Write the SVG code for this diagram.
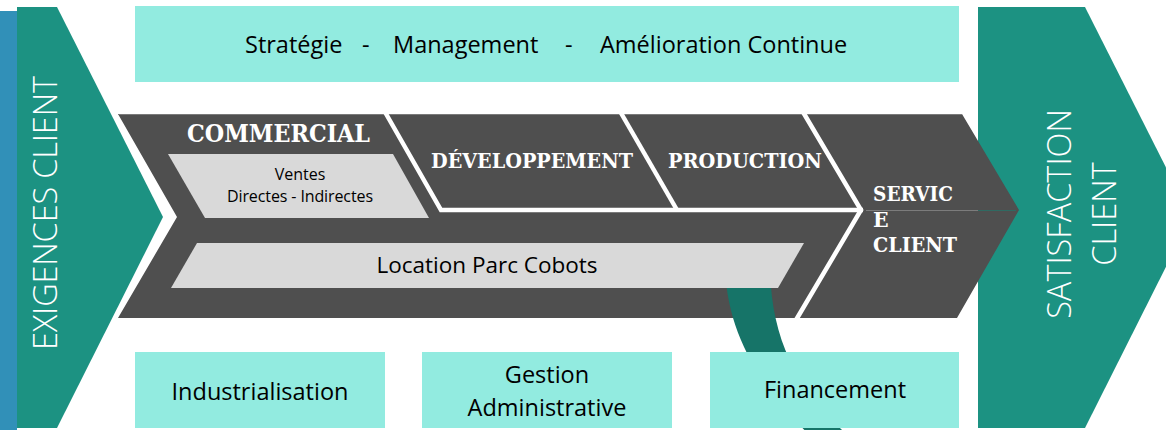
<svg xmlns="http://www.w3.org/2000/svg" width="1166" height="430" viewBox="0 0 1166 430">
<style>
.pale{fill:#92ebe0}
.teal{fill:#1c9282}
.dark{fill:#4f4f4f}
.grey{fill:#d9d9d9}
.sep{stroke:#ffffff;stroke-width:4.5;fill:none;stroke-linejoin:miter}
.sans{font-family:"Open Sans","Noto Sans","Liberation Sans",sans-serif;fill:#000000}
.big{font-size:23.5px}
.light{font-family:"Open Sans","Noto Sans","Liberation Sans",sans-serif;font-weight:300;fill:#ffffff;font-size:32.5px}
.slab{font-family:"DejaVu Serif","Liberation Serif",serif;font-weight:bold;fill:#ffffff}
</style>
<rect width="1166" height="430" fill="#ffffff"/>

<g id="exigences-client">
<rect x="0" y="11" width="17" height="419" fill="#3190b8"/>
<polygon class="teal" points="17,7 57,7 163,217 57,428 17,428"/>
<text class="light" transform="translate(57,213) rotate(-90)" text-anchor="middle" textLength="274">EXIGENCES CLIENT</text>
</g>

<g id="satisfaction-client">
<polygon class="teal" points="978,7 1085,7 1191,217 1085,428 978,428"/>
<text class="light" transform="translate(1071,214) rotate(-90)" text-anchor="middle">SATISFACTION</text>
<text class="light" transform="translate(1116,214) rotate(-90)" text-anchor="middle">CLIENT</text>
</g>

<g id="strategie">
<rect class="pale" x="135" y="6" width="824" height="76"/>
<text class="sans big" y="53"><tspan x="245">Stratégie</tspan><tspan x="362">-</tspan><tspan x="393">Management</tspan><tspan x="565">-</tspan><tspan x="600">Amélioration Continue</tspan></text>
</g>

<g id="chaine-valeur">
<polygon class="dark" points="118,114 962,114 1019,210 957,318 118,318 177,217"/>
<line x1="118" y1="114.5" x2="962" y2="114.5" stroke="#7a7a7a" stroke-width="1"/>
<polyline class="sep" points="385,112 441,210 863,210"/>
<line class="sep" x1="621" y1="113" x2="677" y2="210"/>
<polyline class="sep" points="803,112 861,210 796,320"/>
<line x1="866" y1="210.5" x2="978" y2="210.5" stroke="#7c7c7c" stroke-width="1"/>
<line x1="978" y1="210.5" x2="1016" y2="210.5" stroke="#2f6a62" stroke-width="1"/>
</g>

<g id="swoosh">
<path d="M725,262 C725,330 760,390 815,440 L853,440 C790,385 770,330 770,262 Z" fill="#167468"/>
</g>

<g id="commercial">
<text class="slab" x="187" y="142" font-size="24" textLength="183" lengthAdjust="spacingAndGlyphs">COMMERCIAL</text>
</g>

<g id="ventes">
<polygon class="grey" points="168,154 393,154 429,218 205,218"/>
<text class="sans" x="300" y="180" font-size="16" text-anchor="middle">Ventes</text>
<text class="sans" x="300" y="202" font-size="16" text-anchor="middle" textLength="146">Directes - Indirectes</text>
</g>

<g id="developpement">
<text class="slab" x="431" y="168" font-size="21" textLength="202" lengthAdjust="spacingAndGlyphs">DÉVELOPPEMENT</text>
</g>

<g id="production">
<text class="slab" x="668" y="168" font-size="21" textLength="154" lengthAdjust="spacingAndGlyphs">PRODUCTION</text>
</g>

<g id="service-client">
<text class="slab" x="873" y="201" font-size="20.5" textLength="80" lengthAdjust="spacingAndGlyphs">SERVIC</text>
<text class="slab" x="873" y="227" font-size="20.5">E</text>
<text class="slab" x="873" y="252" font-size="20.5" textLength="84" lengthAdjust="spacingAndGlyphs">CLIENT</text>
</g>

<g id="location">
<polygon class="grey" points="197,243 804,243 778,288 171,288"/>
<text class="sans" x="487" y="273" font-size="22.5" text-anchor="middle">Location Parc Cobots</text>
</g>

<g id="industrialisation">
<rect class="pale" x="135" y="352" width="250" height="76"/>
<text class="sans big" x="260" y="400" text-anchor="middle">Industrialisation</text>
</g>

<g id="gestion">
<rect class="pale" x="422" y="352" width="250" height="76"/>
<text class="sans big" x="547" y="383" text-anchor="middle">Gestion</text>
<text class="sans big" x="547" y="416" text-anchor="middle">Administrative</text>
</g>

<g id="financement">
<rect class="pale" x="710" y="352" width="249" height="76"/>
<text class="sans big" x="835" y="398" text-anchor="middle">Financement</text>
</g>

<g id="connectors"></g>
</svg>
